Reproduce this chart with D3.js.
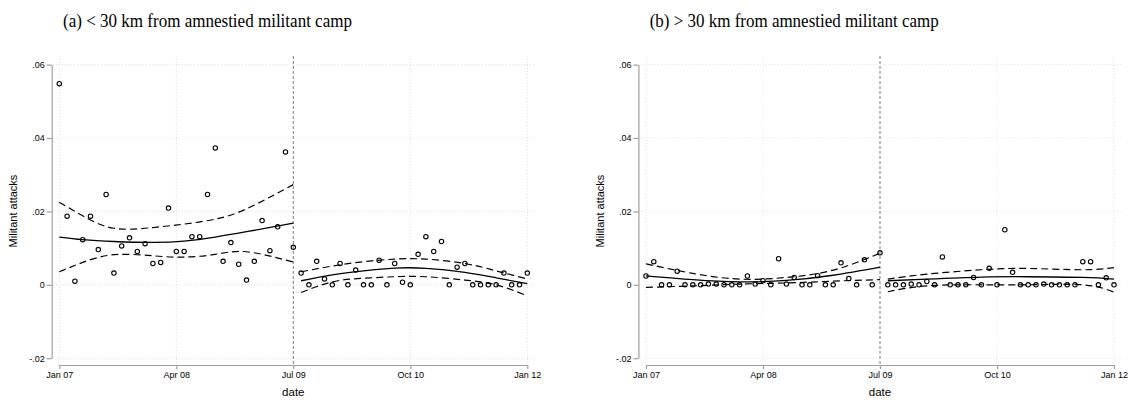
<!DOCTYPE html>
<html>
<head>
<meta charset="utf-8">
<script src="https://cdn.jsdelivr.net/npm/d3@7/dist/d3.min.js"></script>
<style>
  body { margin: 0; background: #fff; }
  svg text { fill: #000; }
</style>
</head>
<body>
<svg id="chart" width="1133" height="400"></svg>
<script>
// Monthly observations, Jan 2007 (0) .. Jan 2012 (60)
const monthIndex = d3.range(0, 61);
const cutoffMonth = 30; // Jul 09

const xTickMonths = [0, 15, 30, 45, 60];
const xTickLabels = ["Jan 07", "Apr 08", "Jul 09", "Oct 10", "Jan 12"];
const yTickValues = [-0.02, 0, 0.02, 0.04, 0.06];
const yTickLabels = ["-.02", "0", ".02", ".04", ".06"];

const panelTitles = [
  "(a) < 30 km from amnestied militant camp",
  "(b) > 30 km from amnestied militant camp"
];
const yAxisTitle = "Militant attacks";
const xAxisTitle = "date";

// Average militant attacks per month, within 30 km of a camp
const nearAttacks = [
  0.0548, 0.0187, 0.0010, 0.0123, 0.0187, 0.0096, 0.0246, 0.0032, 0.0106, 0.0128,
  0.0091, 0.0112, 0.0058, 0.0061, 0.0209, 0.0091, 0.0091, 0.0131, 0.0131, 0.0246,
  0.0373, 0.0064, 0.0115, 0.0056, 0.0013, 0.0064, 0.0175, 0.0093, 0.0158, 0.0362,
  0.0102, 0.0032, 0.0000, 0.0064, 0.0016, 0.0000, 0.0058, 0.0000, 0.0040, 0.0000,
  0.0000, 0.0067, 0.0000, 0.0058, 0.0007, 0.0000, 0.0083, 0.0131, 0.0091, 0.0118,
  0.0000, 0.0048, 0.0058, 0.0000, 0.0000, 0.0000, 0.0000, 0.0032, 0.0000, 0.0000,
  0.0032
];

// Average militant attacks per month, beyond 30 km of a camp
const farAttacks = [
  0.0024, 0.0063, 0.0000, 0.0000, 0.0037, 0.0000, 0.0000, 0.0000, 0.0002, 0.0002,
  0.0000, 0.0000, 0.0000, 0.0024, 0.0002, 0.0011, 0.0000, 0.0071, 0.0002, 0.0020,
  0.0000, 0.0000, 0.0025, 0.0000, 0.0000, 0.0060, 0.0017, 0.0000, 0.0068, 0.0000,
  0.0087, 0.0000, 0.0000, 0.0000, 0.0002, 0.0000, 0.0009, 0.0000, 0.0076, 0.0000,
  0.0000, 0.0000, 0.0020, 0.0000, 0.0045, 0.0000, 0.0150, 0.0034, 0.0000, 0.0000,
  0.0000, 0.0002, 0.0000, 0.0000, 0.0000, 0.0000, 0.0063, 0.0063, 0.0000, 0.0019,
  0.0000
];

// Fitted trend with confidence band, before and after the amnesty
const nearPreMonths = [0, 3, 7, 12, 16, 20, 24, 30];
const nearPreFit    = [0.0130, 0.0123, 0.0118, 0.01155, 0.0119, 0.0130, 0.01446, 0.0168];
const nearPreLow    = [0.00355, 0.0061, 0.0082, 0.0079, 0.00755, 0.0083, 0.0090, 0.0062];
const nearPreHigh   = [0.0225, 0.0188, 0.0154, 0.0156, 0.01655, 0.0179, 0.0207, 0.0273];

const nearPostMonths = [31, 35, 39, 43, 47, 52, 56, 60];
const nearPostFit    = [0.0011, 0.0027, 0.0038, 0.00455, 0.0045, 0.0034, 0.0019, 0.0003];
const nearPostLow    = [-0.0021, 0.0008, 0.0018, 0.0022, 0.0022, 0.0013, 0.0000, -0.0030];
const nearPostHigh   = [0.00355, 0.0051, 0.0063, 0.0070, 0.0070, 0.0058, 0.0038, 0.0016];

const farPreMonths = [0, 6, 12, 18, 24, 30];
const farPreFit    = [0.00245, 0.0014, 0.0008, 0.0012, 0.0026, 0.0048];
const farPreLow    = [-0.0007, -0.0003, 0.0002, 0.0005, 0.0010, 0.0014];
const farPreHigh   = [0.0057, 0.0031, 0.00155, 0.0020, 0.0040, 0.0086];

const farPostMonths = [31, 36, 43, 49, 56, 60];
const farPostFit    = [0.0011, 0.00155, 0.0021, 0.0022, 0.0020, 0.00155];
const farPostLow    = [-0.0019, -0.0003, 0.0000, 0.0000, 0.0000, -0.0020];
const farPostHigh   = [0.00155, 0.0029, 0.0041, 0.00445, 0.0041, 0.0047];

const panels = [
  { title: panelTitles[0], values: nearAttacks, offset: 0,
    segments: [
      { m: nearPreMonths, fit: nearPreFit, lo: nearPreLow, hi: nearPreHigh },
      { m: nearPostMonths, fit: nearPostFit, lo: nearPostLow, hi: nearPostHigh }
    ] },
  { title: panelTitles[1], values: farAttacks, offset: 586.7,
    segments: [
      { m: farPreMonths, fit: farPreFit, lo: farPreLow, hi: farPreHigh },
      { m: farPostMonths, fit: farPostFit, lo: farPostLow, hi: farPostHigh }
    ] }
];

const svg = d3.select("#chart");
const sans = "'Liberation Sans', Arial, Helvetica, sans-serif";
const serif = "'Liberation Serif', 'DejaVu Serif', serif";

panels.forEach(p => {
  const g = svg.append("g").attr("transform", `translate(${p.offset},0)`);

  const x = d3.scaleLinear().domain([0, 60]).range([59.3, 527.3]);
  const y = d3.scaleLinear().domain([-0.02, 0.06]).range([358.2, 64.6]);
  const plotLeft = 53, plotRight = 535, plotTop = 56, plotBottom = 365;

  // grid
  g.append("g").selectAll("line").data(yTickValues).join("line")
    .attr("x1", plotLeft).attr("x2", plotRight)
    .attr("y1", d => y(d)).attr("y2", d => y(d))
    .attr("stroke", "#d8d8d8").attr("stroke-width", 0.8)
    .attr("stroke-dasharray", "1,2");
  g.append("g").selectAll("line").data(xTickMonths.filter(d => d !== cutoffMonth)).join("line")
    .attr("x1", d => x(d)).attr("x2", d => x(d))
    .attr("y1", plotTop).attr("y2", plotBottom)
    .attr("stroke", "#d8d8d8").attr("stroke-width", 0.8)
    .attr("stroke-dasharray", "1,2");

  // amnesty cutoff
  g.append("line")
    .attr("x1", x(cutoffMonth)).attr("x2", x(cutoffMonth))
    .attr("y1", plotTop).attr("y2", plotBottom)
    .attr("stroke", "#7a7a7a").attr("stroke-width", 1)
    .attr("stroke-dasharray", "3,2");

  // axes
  const yAxis = d3.axisLeft(y).tickValues(yTickValues)
    .tickFormat((d, i) => yTickLabels[i]).tickSize(5).tickSizeOuter(0).tickPadding(2);
  const ya = g.append("g").attr("transform", "translate(51.7,0)").call(yAxis);
  const xAxis = d3.axisBottom(x).tickValues(xTickMonths)
    .tickFormat((d, i) => xTickLabels[i]).tickSize(4).tickSizeOuter(0).tickPadding(3);
  const xa = g.append("g").attr("transform", `translate(0,${plotBottom})`).call(xAxis);
  [ya, xa].forEach(a => {
    a.select(".domain").attr("stroke", "#a0a0a0").attr("stroke-width", 1.2);
    a.selectAll(".tick line").attr("stroke", "#a0a0a0").attr("stroke-width", 1.2);
    a.selectAll(".tick text").attr("font-family", sans).attr("font-size", 9).attr("fill", "#000");
  });

  // fitted curves
  p.segments.forEach(s => {
    const line = key => d3.line()
      .x((d, i) => x(s.m[i]))
      .y((d, i) => y(s[key][i]))
      .curve(d3.curveNatural)(s.m);
    g.append("path").attr("d", line("fit")).attr("fill", "none")
      .attr("stroke", "#000").attr("stroke-width", 1.3);
    ["lo", "hi"].forEach(k => {
      g.append("path").attr("d", line(k)).attr("fill", "none")
        .attr("stroke", "#000").attr("stroke-width", 1.2)
        .attr("stroke-dasharray", "7,4");
    });
  });

  // observations
  g.append("g").selectAll("circle").data(monthIndex).join("circle")
    .attr("cx", d => x(d)).attr("cy", d => y(p.values[d])).attr("r", 2.2)
    .attr("fill", "none").attr("stroke", "#000").attr("stroke-width", 1.1);

  // axis titles
  g.append("text").attr("transform", "translate(17,211) rotate(-90)")
    .attr("text-anchor", "middle").attr("font-family", sans).attr("font-size", 11)
    .text(yAxisTitle);
  g.append("text").attr("x", x(30)).attr("y", 396)
    .attr("text-anchor", "middle").attr("font-family", sans).attr("font-size", 11.5)
    .text(xAxisTitle);

  // panel title
  g.append("text").attr("x", 63).attr("y", 27)
    .attr("font-family", serif).attr("font-size", 19.5)
    .attr("textLength", 289).attr("lengthAdjust", "spacingAndGlyphs")
    .text(p.title);
});
</script>
</body>
</html>
